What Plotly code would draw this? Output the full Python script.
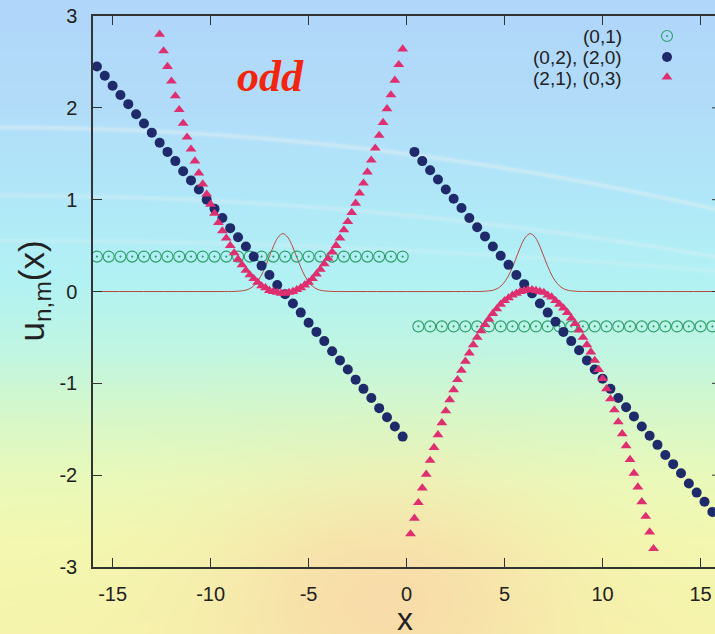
import zlib, struct, base64
import numpy as np
import plotly.graph_objects as go

# ---------------- data ----------------
circ_left_x = [-15.8, -15.2, -14.6, -14.0, -13.4, -12.8, -12.2, -11.6, -11.0, -10.4, -9.8, -9.2, -8.6,
               -8.0, -7.4, -6.8, -6.2, -5.6, -5.0, -4.4, -3.8, -3.2, -2.6, -2.0, -1.4, -0.8, -0.2]
circ_left_y = [0.38] * 27
circ_right_x = [0.6, 1.2, 1.8, 2.4, 3.0, 3.6, 4.2, 4.8, 5.4, 6.0, 6.6, 7.2, 7.8, 8.4, 9.0, 9.6, 10.2,
                10.8, 11.4, 12.0, 12.6, 13.2, 13.8, 14.4, 15.0, 15.6]
circ_right_y = [-0.38] * 26

dot_left_x = [-15.8, -15.4, -15.0, -14.6, -14.2, -13.8, -13.4, -13.0, -12.6, -12.2, -11.8, -11.4, -11.0,
              -10.6, -10.2, -9.8, -9.4, -9.0, -8.6, -8.2, -7.8, -7.4, -7.0, -6.6, -6.2, -5.8, -5.4, -5.0,
              -4.6, -4.2, -3.8, -3.4, -3.0, -2.6, -2.2, -1.8, -1.4, -1.0, -0.6, -0.2]
dot_left_y = [2.45, 2.35, 2.24, 2.14, 2.04, 1.93, 1.83, 1.73, 1.62, 1.52, 1.42, 1.31, 1.21, 1.11, 1.00,
              0.90, 0.80, 0.69, 0.59, 0.49, 0.38, 0.28, 0.18, 0.07, -0.03, -0.13, -0.23, -0.34, -0.44,
              -0.54, -0.65, -0.75, -0.85, -0.96, -1.06, -1.16, -1.27, -1.37, -1.47, -1.58]
dot_right_x = [0.4, 0.8, 1.2, 1.6, 2.0, 2.4, 2.8, 3.2, 3.6, 4.0, 4.4, 4.8, 5.2, 5.6, 6.0, 6.4, 6.8, 7.2,
               7.6, 8.0, 8.4, 8.8, 9.2, 9.6, 10.0, 10.4, 10.8, 11.2, 11.6, 12.0, 12.4, 12.8, 13.2, 13.6,
               14.0, 14.4, 14.8, 15.2, 15.6, 16.0]
dot_right_y = [1.52, 1.42, 1.32, 1.22, 1.11, 1.01, 0.91, 0.80, 0.70, 0.60, 0.49, 0.39, 0.29, 0.18, 0.08,
               -0.02, -0.13, -0.23, -0.33, -0.44, -0.54, -0.64, -0.75, -0.85, -0.95, -1.06, -1.16, -1.26,
               -1.36, -1.47, -1.57, -1.67, -1.78, -1.88, -1.98, -2.09, -2.19, -2.29, -2.40, -2.50]

tri_left_x = [-12.6, -12.4, -12.2, -12.0, -11.8, -11.6, -11.4, -11.2, -11.0, -10.8, -10.6, -10.4, -10.2,
              -10.0, -9.8, -9.6, -9.4, -9.2, -9.0, -8.8, -8.6, -8.4, -8.2, -8.0, -7.8, -7.6, -7.4, -7.2,
              -7.0, -6.8, -6.6, -6.4, -6.2, -6.0, -5.8, -5.6, -5.4, -5.2, -5.0, -4.8, -4.6, -4.4, -4.2,
              -4.0, -3.8, -3.6, -3.4, -3.2, -3.0, -2.8, -2.6, -2.4, -2.2, -2.0, -1.8, -1.6, -1.4, -1.2,
              -1.0, -0.8, -0.6, -0.4, -0.2]
tri_left_y = [2.80, 2.62, 2.45, 2.29, 2.13, 1.98, 1.83, 1.68, 1.55, 1.42, 1.29, 1.17, 1.06, 0.95, 0.85,
              0.75, 0.66, 0.58, 0.50, 0.42, 0.35, 0.29, 0.23, 0.18, 0.14, 0.10, 0.06, 0.04, 0.01, 0.00,
              -0.01, -0.02, -0.02, -0.01, 0.00, 0.02, 0.04, 0.07, 0.10, 0.14, 0.19, 0.24, 0.30, 0.36,
              0.43, 0.50, 0.58, 0.67, 0.76, 0.86, 0.96, 1.07, 1.18, 1.30, 1.43, 1.56, 1.70, 1.84, 1.99,
              2.14, 2.30, 2.47, 2.64]
tri_right_x = [0.2, 0.4, 0.6, 0.8, 1.0, 1.2, 1.4, 1.6, 1.8, 2.0, 2.2, 2.4, 2.6, 2.8, 3.0, 3.2, 3.4, 3.6,
               3.8, 4.0, 4.2, 4.4, 4.6, 4.8, 5.0, 5.2, 5.4, 5.6, 5.8, 6.0, 6.2, 6.4, 6.6, 6.8, 7.0, 7.2,
               7.4, 7.6, 7.8, 8.0, 8.2, 8.4, 8.6, 8.8, 9.0, 9.2, 9.4, 9.6, 9.8, 10.0, 10.2, 10.4, 10.6,
               10.8, 11.0, 11.2, 11.4, 11.6, 11.8, 12.0, 12.2, 12.4, 12.6]
tri_right_y = [-2.64, -2.47, -2.30, -2.14, -1.99, -1.84, -1.70, -1.56, -1.43, -1.30, -1.18, -1.07, -0.96,
               -0.86, -0.76, -0.67, -0.58, -0.50, -0.43, -0.36, -0.30, -0.24, -0.19, -0.14, -0.10, -0.07,
               -0.04, -0.02, 0.00, 0.01, 0.02, 0.02, 0.01, 0.00, -0.01, -0.04, -0.06, -0.10, -0.14, -0.18,
               -0.23, -0.29, -0.35, -0.42, -0.50, -0.58, -0.66, -0.75, -0.85, -0.95, -1.06, -1.17, -1.29,
               -1.42, -1.55, -1.68, -1.83, -1.98, -2.13, -2.29, -2.45, -2.62, -2.80]

line_x = [-16.0, -9.3, -8.81, -8.31, -8.06, -7.81, -7.56, -7.31, -7.06, -6.81, -6.56, -6.31, -6.06,
          -5.81, -5.56, -5.31, -5.06, -4.81, -4.56, -4.31, -3.81, -3.31, 3.31, 3.81, 4.31, 4.56, 4.81,
          5.06, 5.31, 5.56, 5.81, 6.06, 6.31, 6.56, 6.81, 7.06, 7.31, 7.56, 7.81, 8.06, 8.31, 8.81, 9.3, 16.0]
line_y = [0.0, 0.0, 0.001, 0.010, 0.025, 0.059, 0.122, 0.220, 0.349, 0.485, 0.590, 0.630, 0.590, 0.485,
          0.349, 0.220, 0.122, 0.059, 0.025, 0.010, 0.001, 0.0, 0.0, 0.001, 0.010, 0.025, 0.059, 0.122,
          0.220, 0.349, 0.485, 0.590, 0.630, 0.590, 0.485, 0.349, 0.220, 0.122, 0.059, 0.025, 0.010,
          0.001, 0.0, 0.0]

legend_labels = ["(0,1)", "(0,2), (2,0)", "(2,1), (0,3)"]
x_ticks = [-15, -10, -5, 0, 5, 10, 15]
x_tick_text = ["-15", "-10", "-5", "0", "5", "10", "15"]
y_ticks = [-3, -2, -1, 0, 1, 2, 3]
y_tick_text = ["-3", "-2", "-1", "0", "1", "2", "3"]

GREEN = "#2f9e68"
NAVY = "#1f2a6a"
PINK = "#de2f70"
LINE = "#b8493f"
AX = "#333333"
FONT = "Liberation Sans, Arial, sans-serif"

# ---------------- figure geometry ----------------
W, H = 715, 634
ML, MR, MT, MB = 93, 0, 16, 67
PW, PH = W - ML - MR, H - MT - MB

# ---------------- background picture ----------------
yy, xx = np.mgrid[0:H, 0:W].astype(float)
stops_y = [0, 100, 200, 280, 350, 420, 480, 540, 634]
stops_c = [(176, 214, 250), (178, 220, 250), (176, 232, 248), (178, 242, 244), (192, 246, 226),
           (216, 248, 200), (234, 250, 186), (243, 248, 176), (246, 244, 172)]
img = np.zeros((H, W, 3))
for c in range(3):
    img[..., c] = np.interp(yy, stops_y, [s[c] for s in stops_c])
wb = 0.75 * np.exp(-(((xx - 385) / 120.0) ** 2 + ((yy - 600) / 80.0) ** 2) / 2)
orange = np.array([250, 212, 168])
img = img * (1 - wb[..., None]) + orange * wb[..., None]
# faint white contour-like streaks
for base, curv, alpha in [(127, 0.00016, 0.35), (195, 0.00012, 0.25), (240, 0.00006, 0.18)]:
    yc = base + curv * xx ** 2
    wl = alpha * np.exp(-((yy - yc) / 2.5) ** 2)
    img = img * (1 - wl[..., None]) + 245 * wl[..., None]
img = np.clip(img, 0, 255).astype(np.uint8)


def png_bytes(arr):
    h, w, _ = arr.shape
    raw = b"".join(b"\x00" + arr[i].tobytes() for i in range(h))

    def chunk(t, d):
        return struct.pack(">I", len(d)) + t + d + struct.pack(">I", zlib.crc32(t + d) & 0xffffffff)

    return (b"\x89PNG\r\n\x1a\n" + chunk(b"IHDR", struct.pack(">IIBBBBB", w, h, 8, 2, 0, 0, 0))
            + chunk(b"IDAT", zlib.compress(raw, 9)) + chunk(b"IEND", b""))


bg_uri = "data:image/png;base64," + base64.b64encode(png_bytes(img)).decode()

# ---------------- traces ----------------
fig = go.Figure()
fig.add_trace(go.Scatter(x=line_x, y=line_y, mode="lines", line=dict(color=LINE, width=1, shape="spline"),
                         showlegend=False, hoverinfo="skip"))
circ_style = dict(symbol="circle-open-dot", size=11, color=GREEN, line=dict(color=GREEN, width=1.1))
dot_style = dict(symbol="circle", size=10, color=NAVY, line=dict(width=0))
tri_style = dict(symbol="triangle-up", size=9.5, color=PINK, line=dict(width=0))
fig.add_trace(go.Scatter(x=circ_left_x, y=circ_left_y, mode="markers", marker=circ_style, showlegend=False))
fig.add_trace(go.Scatter(x=circ_right_x, y=circ_right_y, mode="markers", marker=circ_style, showlegend=False))
fig.add_trace(go.Scatter(x=dot_left_x, y=dot_left_y, mode="markers", marker=dot_style, showlegend=False))
fig.add_trace(go.Scatter(x=dot_right_x, y=dot_right_y, mode="markers", marker=dot_style, showlegend=False))
fig.add_trace(go.Scatter(x=tri_left_x, y=tri_left_y, mode="markers", marker=tri_style, showlegend=False))
fig.add_trace(go.Scatter(x=tri_right_x, y=tri_right_y, mode="markers", marker=tri_style, showlegend=False))

# legend keys on a pixel-based overlay axis
leg_px_x = 667
leg_px_y = [36, 57, 77]
for i, st in enumerate([circ_style, dot_style, tri_style]):
    fig.add_trace(go.Scatter(x=[leg_px_x], y=[leg_px_y[i]], mode="markers", marker=st, xaxis="x2",
                             yaxis="y2", showlegend=False, hoverinfo="skip", cliponaxis=False))

annotations = []
for i, lab in enumerate(legend_labels):
    annotations.append(dict(text=lab, xref="paper", yref="paper", x=(624 - ML) / PW,
                            y=(H - MB - leg_px_y[i] - 1) / PH, xanchor="right", yanchor="middle",
                            showarrow=False, font=dict(family=FONT, size=19, color="#222222")))
annotations.append(dict(text="<b><i>odd</i></b>", xref="paper", yref="paper", x=(270 - ML) / PW,
                        y=(H - MB - 76) / PH, xanchor="center", yanchor="middle", showarrow=False,
                        font=dict(family="Liberation Serif, Times New Roman, serif", size=44, color="#f2260f")))
annotations.append(dict(text="u<sub>n,m</sub>(x)", xref="paper", yref="paper", x=(33 - ML) / PW, y=0.5,
                        xanchor="center", yanchor="middle", textangle=-90, showarrow=False,
                        font=dict(family=FONT, size=35, color="#222222")))
annotations.append(dict(text="x", xref="paper", yref="paper", x=(405 - ML) / PW, y=(H - MB - 619) / PH,
                        xanchor="center", yanchor="middle", showarrow=False,
                        font=dict(family=FONT, size=32, color="#222222")))

# right-side inward ticks of the (cut-off) right border
shapes = [dict(type="line", xref="paper", yref="y", x0=1 - 3.0 / PW, x1=1.0, y0=v, y1=v,
               line=dict(color=AX, width=1)) for v in y_ticks[1:-1]]

fig.update_layout(
    width=W, height=H, margin=dict(l=ML, r=MR, t=MT, b=MB, pad=0),
    paper_bgcolor="rgba(0,0,0,0)", plot_bgcolor="rgba(0,0,0,0)",
    images=[dict(source=bg_uri, xref="paper", yref="paper", x=-ML / PW, y=1 + MT / PH,
                 sizex=W / PW, sizey=H / PH, sizing="stretch", xanchor="left", yanchor="top",
                 layer="below")],
    annotations=annotations, shapes=shapes,
    xaxis=dict(range=[-16, -16 + PW / 19.6], tickvals=x_ticks, ticktext=x_tick_text, ticks="inside",
               ticklen=9, tickwidth=1, tickcolor=AX, showline=True, linecolor=AX, linewidth=1.5,
               mirror="ticks", showgrid=False, zeroline=False, ticklabelstandoff=8,
               tickfont=dict(family=FONT, size=20, color="#222222")),
    yaxis=dict(range=[-3, 3], tickvals=y_ticks, ticktext=y_tick_text, ticks="inside", ticklen=9,
               tickwidth=1, tickcolor=AX, showline=True, linecolor=AX, linewidth=1.5, mirror=False,
               showgrid=False, zeroline=False, ticklabelstandoff=10,
               tickfont=dict(family=FONT, size=20, color="#222222")),
    xaxis2=dict(overlaying="x", range=[ML, W], visible=False, fixedrange=True),
    yaxis2=dict(overlaying="y", range=[H - MB, MT], visible=False, fixedrange=True),
    showlegend=False,
)

fig.write_html("out.html", config={"displayModeBar": False},
               post_script="document.body.style.margin='0px';document.body.style.overflow='hidden';")
